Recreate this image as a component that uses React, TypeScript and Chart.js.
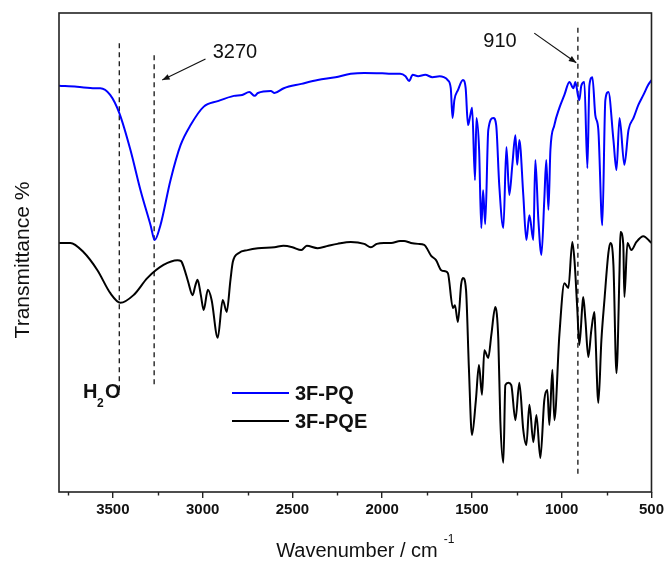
import React, { useEffect, useRef } from "react";
import { Chart, registerables } from "chart.js";

Chart.register(...registerables);

// ---- data (wavenumber cm^-1, transmittance arbitrary %) ----
const PQ_WAVENUMBER = [
  3800, 3700, 3600, 3570, 3515, 3464, 3402, 3346, 3290, 3267, 3235, 3179, 3123, 3067, 2995, 2916, 2826,
  2780, 2740, 2710, 2692, 2620, 2600, 2548, 2450, 2359, 2260, 2175, 2100, 2000, 1950, 1900, 1870, 1850,
  1830, 1800, 1760, 1720, 1680, 1657, 1635, 1618, 1608, 1598, 1578, 1550, 1535, 1522, 1510, 1499, 1483,
  1475, 1460, 1448, 1438, 1426, 1409, 1381, 1365, 1348, 1325, 1308, 1292, 1275, 1258, 1248, 1236, 1214,
  1197, 1180, 1158, 1147, 1130, 1113, 1097, 1086, 1074, 1063, 1041, 1013, 985, 957, 935, 924, 910, 902,
  891, 874, 857, 846, 829, 813, 796, 774, 757, 740, 712, 695, 678, 651, 628, 600, 573, 545, 518, 500,
];
const PQ_TRANSMITTANCE = [
  84.8, 84.6, 84.3, 84.3, 82.9, 79.1, 71.4, 63.0, 55.7, 52.6, 55.7, 65.1, 72.4, 76.6, 80.4, 81.6, 82.7,
  82.9, 83.5, 82.7, 83.3, 83.7, 83.3, 84.3, 85.2, 86.0, 86.6, 87.3, 87.5, 87.4, 87.3, 87.3, 86.8, 85.8,
  87.1, 86.8, 87.1, 86.6, 86.8, 86.6, 86.0, 84.3, 78.1, 81.8, 83.9, 86.0, 84.3, 76.6, 78.5, 80.2, 65.1,
  78.1, 71.4, 55.1, 63.0, 55.9, 75.6, 78.1, 76.6, 64.1, 55.1, 72.0, 62.0, 68.3, 74.5, 68.3, 73.5, 62.0,
  52.6, 57.8, 52.6, 69.3, 56.8, 49.5, 61.0, 69.3, 58.9, 71.4, 76.6, 80.2, 82.9, 85.6, 84.3, 85.6, 82.9, 81.8,
  84.8, 85.6, 67.6, 84.8, 86.6, 78.7, 75.6, 55.7, 81.8, 83.5, 73.5, 67.2, 78.1, 68.3, 75.6, 78.1, 80.8, 82.9, 85.0, 86.0,
];

const PQE_WAVENUMBER = [
  3800, 3737, 3664, 3586, 3514, 3458, 3385, 3307, 3218, 3140, 3120, 3104, 3080, 3056, 3040, 3028, 3010,
  2994, 2971, 2950, 2916, 2888, 2866, 2845, 2832, 2798, 2750, 2692, 2600, 2550, 2500, 2450, 2420, 2359,
  2300, 2250, 2175, 2100, 2063, 2030, 1990, 1950, 1900, 1878, 1840, 1800, 1766, 1727, 1700, 1671, 1650,
  1634, 1606, 1595, 1578, 1560, 1550, 1533, 1517, 1500, 1478, 1461, 1444, 1431, 1409, 1392, 1370, 1353,
  1342, 1325, 1314, 1297, 1281, 1258, 1236, 1214, 1197, 1180, 1158, 1141, 1119, 1097, 1080, 1069, 1052,
  1041, 1013, 985, 963, 941, 929, 913, 902, 885, 880, 868, 852, 835, 818, 813, 796, 779, 762, 740, 729,
  712, 695, 678, 673, 657, 651, 634, 612, 584, 545, 506, 500,
];
const PQE_TRANSMITTANCE = [
  52.0, 52.0, 50.1, 46.3, 41.5, 39.5, 41.1, 44.7, 47.4, 48.4, 48.2, 46.8, 43.8, 41.1, 43.2, 44.3, 41.1,
  38.0, 42.2, 40.1, 32.2, 40.1, 37.6, 44.3, 48.0, 49.9, 50.5, 50.9, 51.1, 51.4, 51.1, 50.5, 51.4, 50.9,
  51.4, 51.8, 52.2, 51.8, 51.1, 51.8, 52.0, 52.0, 52.4, 52.4, 52.0, 51.8, 51.6, 49.3, 48.4, 46.3, 46.1,
  45.7, 38.4, 39.0, 35.5, 43.4, 44.7, 42.2, 25.9, 11.9, 19.2, 26.5, 20.3, 29.6, 28.0, 32.8, 38.6, 31.7,
  15.0, 6.1, 22.3, 22.8, 22.3, 15.0, 22.8, 12.9, 9.8, 18.2, 10.4, 16.1, 7.1, 19.2, 21.3, 14.0, 25.5,
  15.0, 32.8, 43.6, 42.6, 52.2, 48.4, 38.0, 30.7, 39.0, 40.7, 35.9, 28.2, 33.8, 37.6, 33.8, 18.6, 31.7, 40.1, 49.9, 52.0,
  47.4, 24.8, 46.3, 54.3, 51.6, 40.7, 52.0, 50.5, 52.2, 53.4, 52.2, 52.0,
];

const SERIES_NAMES = ["3F-PQ", "3F-PQE"];
const SERIES_COLORS = ["#0000ff", "#000000"];

const X_TICKS = [3500, 3000, 2500, 2000, 1500, 1000, 500];
const X_MINOR_TICKS = [3750, 3250, 2750, 2250, 1750, 1250, 750];

// dashed marker lines
const MARKER_WN = [3464, 3270, 910];
const MARKER_TOP = [93.7, 91.2, 96.9];
const MARKER_BOTTOM = [20.3, 22.3, 3.5];

const FONT = "'Liberation Sans', Arial, sans-serif";

function arrow(ctx: CanvasRenderingContext2D, x1: number, y1: number, x2: number, y2: number) {
  ctx.save();
  ctx.strokeStyle = "#111";
  ctx.fillStyle = "#111";
  ctx.lineWidth = 1.2;
  ctx.beginPath();
  ctx.moveTo(x1, y1);
  ctx.lineTo(x2, y2);
  ctx.stroke();
  const a = Math.atan2(y2 - y1, x2 - x1);
  const L = 8;
  const w = 0.38;
  ctx.beginPath();
  ctx.moveTo(x2, y2);
  ctx.lineTo(x2 - L * Math.cos(a - w), y2 - L * Math.sin(a - w));
  ctx.lineTo(x2 - L * Math.cos(a + w), y2 - L * Math.sin(a + w));
  ctx.closePath();
  ctx.fill();
  ctx.restore();
}

const decorPlugin = {
  id: "decor",
  afterDraw(chart: any) {
    const ctx: CanvasRenderingContext2D = chart.ctx;
    const { left, right, top, bottom } = chart.chartArea;
    const xs = chart.scales.x;
    const ys = chart.scales.y;
    ctx.save();
    // frame
    ctx.strokeStyle = "#222";
    ctx.lineWidth = 1.6;
    ctx.strokeRect(left, top, right - left, bottom - top);
    // minor ticks
    ctx.lineWidth = 1.4;
    ctx.beginPath();
    for (const v of X_MINOR_TICKS) {
      const px = Math.round(xs.getPixelForValue(v)) + 0.5;
      ctx.moveTo(px, bottom);
      ctx.lineTo(px, bottom + 3.5);
    }
    ctx.stroke();

    ctx.fillStyle = "#111";
    ctx.textBaseline = "alphabetic";
    // annotations
    ctx.font = `20px ${FONT}`;
    ctx.textAlign = "left";
    ctx.fillText("3270", xs.getPixelForValue(2944), ys.getPixelForValue(90.6));
    arrow(ctx, xs.getPixelForValue(2984), ys.getPixelForValue(90.4), xs.getPixelForValue(3225), ys.getPixelForValue(86.0));
    ctx.fillText("910", xs.getPixelForValue(1437), ys.getPixelForValue(92.9));
    arrow(ctx, xs.getPixelForValue(1153), ys.getPixelForValue(95.8), xs.getPixelForValue(919), ys.getPixelForValue(89.6));

    // H2O
    ctx.font = `bold 20px ${FONT}`;
    const hx = 83;
    const hy = 398;
    ctx.fillText("H", hx, hy);
    ctx.font = `bold 12px ${FONT}`;
    ctx.fillText("2", hx + 14, hy + 9);
    ctx.font = `bold 20px ${FONT}`;
    ctx.fillText("O", hx + 22, hy);

    // legend
    const lx = 232;
    const ly = [393, 421];
    for (let i = 0; i < 2; i++) {
      ctx.strokeStyle = SERIES_COLORS[i];
      ctx.lineWidth = 2;
      ctx.beginPath();
      ctx.moveTo(lx, ly[i]);
      ctx.lineTo(lx + 57, ly[i]);
      ctx.stroke();
      ctx.fillStyle = "#111";
      ctx.font = `bold 20px ${FONT}`;
      ctx.textBaseline = "middle";
      ctx.fillText(SERIES_NAMES[i], lx + 63, ly[i] + 1);
    }

    // axis titles
    ctx.textBaseline = "alphabetic";
    ctx.font = `20px ${FONT}`;
    ctx.textAlign = "left";
    const t = "Wavenumber / cm";
    const tw = ctx.measureText(t).width;
    const tx = 357 - tw / 2;
    ctx.fillText(t, tx, 557);
    ctx.font = `12px ${FONT}`;
    ctx.fillText("-1", tx + tw + 6, 543);

    ctx.save();
    ctx.translate(29, 260);
    ctx.rotate(-Math.PI / 2);
    ctx.font = `21px ${FONT}`;
    ctx.textAlign = "center";
    ctx.fillText("Transmittance %", 0, 0);
    ctx.restore();

    ctx.restore();
  },
};

export default function App() {
  const canvasRef = useRef<HTMLCanvasElement | null>(null);

  useEffect(() => {
    if (!canvasRef.current) return;
    const pq = PQ_WAVENUMBER.map((x, i) => ({ x, y: PQ_TRANSMITTANCE[i] }));
    const pqe = PQE_WAVENUMBER.map((x, i) => ({ x, y: PQE_TRANSMITTANCE[i] }));
    const markers = MARKER_WN.map((w, i) => ({
      label: "marker" + i,
      data: [
        { x: w, y: MARKER_TOP[i] },
        { x: w, y: MARKER_BOTTOM[i] },
      ],
      borderColor: "#222",
      borderWidth: 1.4,
      borderDash: [5, 4],
      pointRadius: 0,
      fill: false,
    }));

    const chart = new Chart(canvasRef.current, {
      type: "line",
      data: {
        datasets: [
          {
            label: SERIES_NAMES[0],
            data: pq,
            borderColor: SERIES_COLORS[0],
            borderWidth: 2,
            pointRadius: 0,
            cubicInterpolationMode: "monotone",
            fill: false,
          },
          {
            label: SERIES_NAMES[1],
            data: pqe,
            borderColor: SERIES_COLORS[1],
            borderWidth: 2,
            pointRadius: 0,
            cubicInterpolationMode: "monotone",
            fill: false,
          },
          ...markers,
        ] as any,
      },
      options: {
        animation: false,
        responsive: true,
        maintainAspectRatio: false,
        layout: { padding: { top: 13, right: 15, left: 0, bottom: 0 } },
        plugins: { legend: { display: false }, tooltip: { enabled: false } },
        scales: {
          x: {
            type: "linear",
            reverse: true,
            min: 500,
            max: 3800,
            afterBuildTicks: (scale: any) => {
              scale.ticks = X_TICKS.map((v) => ({ value: v }));
            },
            afterFit: (scale: any) => {
              scale.height = 72;
            },
            ticks: {
              color: "#111",
              font: { family: FONT, size: 15, weight: "bold" },
              padding: 3,
              maxRotation: 0,
              autoSkip: false,
              callback: (v: any) => String(v),
            },
            grid: {
              drawOnChartArea: false,
              drawTicks: true,
              tickLength: 6,
              color: "#222",
              lineWidth: 1.4,
            },
            border: { display: false },
          },
          y: {
            min: 0,
            max: 100,
            ticks: { display: false },
            grid: { display: false },
            border: { display: false },
            afterFit: (scale: any) => {
              scale.width = 59;
            },
          },
        },
      } as any,
      plugins: [decorPlugin],
    });
    return () => chart.destroy();
  }, []);

  return (
    <div style={{ position: "fixed", left: 0, top: 0, width: 667, height: 564, background: "#fff" }}>
      <canvas ref={canvasRef} />
    </div>
  );
}
